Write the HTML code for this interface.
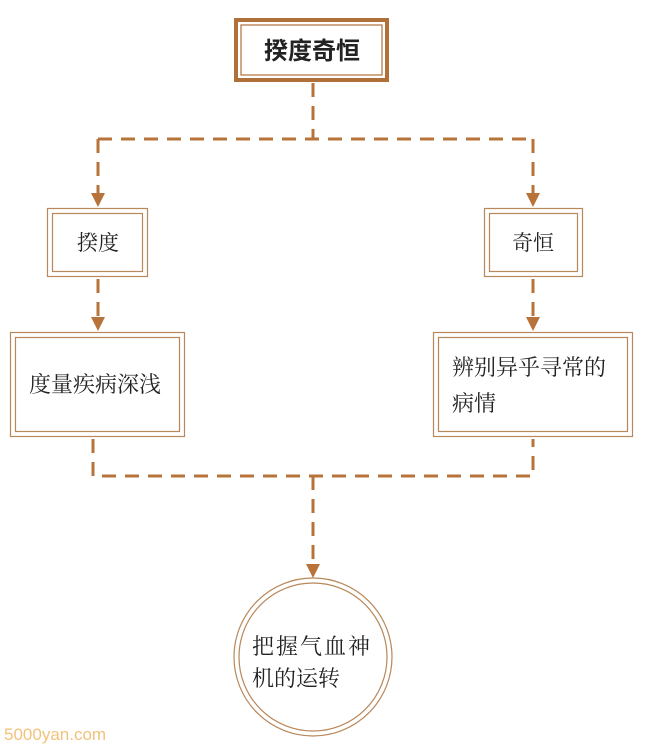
<!DOCTYPE html>
<html><head><meta charset="utf-8"><style>
html,body{margin:0;padding:0;background:#fff;}
svg{display:block;}
text{font-family:"Liberation Serif","Noto Serif CJK SC",serif;fill:#222;}
</style></head><body>
<svg width="669" height="752" viewBox="0 0 669 752">
<g stroke="#b8733a" stroke-width="3" fill="none" stroke-dasharray="14,9">
<path d="M313 83 V139"/>
<path d="M98 139 H533"/>
<path d="M98 139 V196"/>
<path d="M533 139 V196"/>
<path d="M98 279 V320"/>
<path d="M533 279 V320"/>
<path d="M93 439 V476 H533 V439"/>
<path d="M313 476 V566"/>
</g>
<g fill="#b8733a">
<path d="M91 193 L105 193 L98 207 Z"/>
<path d="M526 193 L540 193 L533 207 Z"/>
<path d="M91 317 L105 317 L98 331 Z"/>
<path d="M526 317 L540 317 L533 331 Z"/>
<path d="M306 564 L320 564 L313 578 Z"/>
</g>
<rect x="236" y="20" width="151" height="60" fill="#fff" stroke="#b0703a" stroke-width="4"/>
<rect x="241" y="25" width="141" height="50" fill="none" stroke="#b0703a" stroke-width="1.2"/>
<text x="312" y="59" font-size="24" text-anchor="middle" font-weight="bold" style="font-family:'Liberation Sans','Noto Sans CJK SC',sans-serif">揆度奇恒</text>
<g fill="#fff" stroke="#b8875a" stroke-width="1.2">
<rect x="47.5" y="208.5" width="100" height="68"/>
<rect x="52.5" y="213.5" width="90" height="58" fill="none"/>
<rect x="484.5" y="208.5" width="98" height="68"/>
<rect x="489.5" y="213.5" width="88" height="58" fill="none"/>
<rect x="10.5" y="332.5" width="174" height="104"/>
<rect x="15.5" y="337.5" width="164" height="94" fill="none"/>
<rect x="433.5" y="332.5" width="199" height="104"/>
<rect x="438.5" y="337.5" width="189" height="94" fill="none"/>
<circle cx="313" cy="657" r="79"/>
<circle cx="313" cy="657" r="74" fill="none"/>
</g>
<text x="98" y="250" font-size="21" text-anchor="middle">揆度</text>
<text x="533" y="250" font-size="21" text-anchor="middle">奇恒</text>
<text x="95" y="392" font-size="22" text-anchor="middle">度量疾病深浅</text>
<text x="452" y="375" font-size="22">辨别异乎寻常的</text>
<text x="452" y="411" font-size="22">病情</text>
<text x="252" y="654" font-size="22" letter-spacing="2">把握气血神</text>
<text x="252" y="686" font-size="22">机的运转</text>
<text x="4" y="740" font-size="17" style="fill:#f2c27a;font-family:'Liberation Sans',sans-serif">5000yan.com</text>
</svg>
</body></html>
